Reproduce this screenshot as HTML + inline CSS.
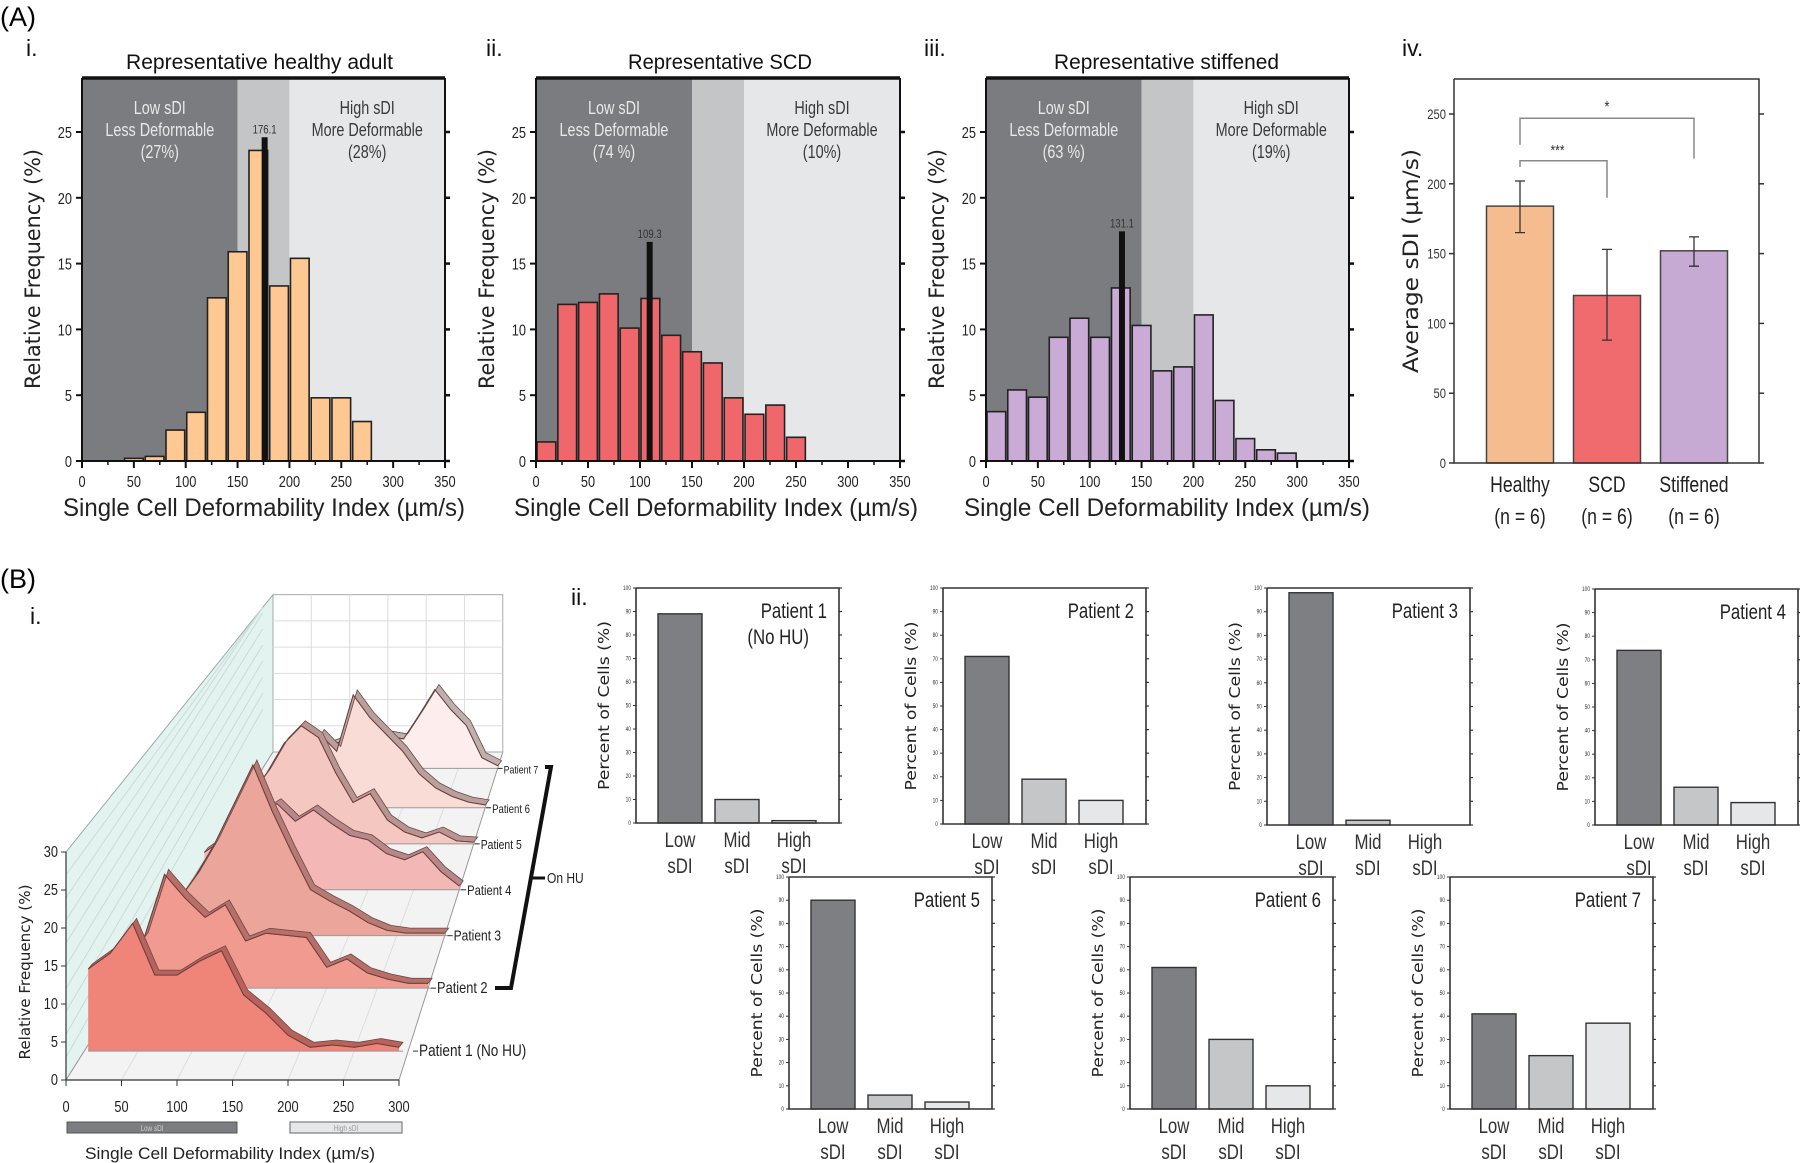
<!DOCTYPE html>
<html><head><meta charset="utf-8">
<style>
html,body{margin:0;padding:0;background:#fff;}
svg{display:block;}
text{font-family:"Liberation Sans Narrow","Liberation Sans",sans-serif;}
.w{font-family:"DejaVu Sans","Liberation Sans",sans-serif;}
</style></head>
<body>
<svg id="fig" width="1800" height="1163" viewBox="0 0 1800 1163" xmlns="http://www.w3.org/2000/svg"></svg>
<script>
// ---------- DATA ----------
const histXTicks=[0,50,100,150,200,250,300,350];
const histYTicks=[0,5,10,15,20,25];
const healthyBins=[40,60,80,100,120,140,160,180,200,220,240,260];
const healthyFreq=[0.2,0.35,2.35,3.7,12.4,15.9,23.6,13.3,15.4,4.8,4.8,3.0];
const healthyMedian=176.1;
const scdBins=[0,20,40,60,80,100,120,140,160,180,200,220,240];
const scdFreq=[1.45,11.9,12.05,12.7,10.1,12.35,9.55,8.3,7.45,4.8,3.55,4.25,1.8];
const scdMedian=109.3;
const stiffBins=[0,20,40,60,80,100,120,140,160,180,200,220,240,260,280];
const stiffFreq=[3.75,5.4,4.85,9.4,10.85,9.4,13.15,10.3,6.85,7.15,11.1,4.6,1.7,0.85,0.6];
const stiffMedian=131.1;
const avgCategories=["Healthy","SCD","Stiffened"];
const avgValues=[184,120,152];
const avgErrLow=[165,88,141];
const avgErrHigh=[202,153,162];
const avgYTicks=[0,50,100,150,200,250];
const waterX=[20,40,60,80,100,120,140,160,180,200,220,240,260,280,300];
const p1Freq=[10.8,12.9,16.8,10,10,11.8,13.2,7.4,5,2.1,0.5,0.8,0.5,1,0.5];
const p2Freq=[7.3,16.4,13,10.2,12,6.8,7.9,7.6,7.3,3,4.2,2.2,1.3,0.7,0.7];
const p3Freq=[5,9,14,20,26,19,12.8,7,5.3,3.8,2,0.8,0.4,0.4,0.4];
const p4Freq=[6,8,10,12,13.8,11,12.8,10.6,8.7,8,5.8,4.8,6.1,2.9,0.6];
const p5Freq=[4,8,12,17,20,18,12,7,8.5,4,2,1,2,0.5,0.3];
const p6Freq=[2,3,5,8,13,10,20,16,13,10,6,3.5,2,1,0.5];
const p7Freq=[1,2,3,4,5,5,5,6,5.5,10,14.7,11,8,2,0.5];
const patientNames=["Patient 1 (No HU)","Patient 2","Patient 3","Patient 4","Patient 5","Patient 6","Patient 7"];
const sdiCategories=["Low","Mid","High"];
const pct1=[89,10,1];
const pct2=[71,19,10];
const pct3=[98,2,0];
const pct4=[74,16,9.5];
const pct5=[90,6,3];
const pct6=[61,30,10];
const pct7=[41,23,37];

// ---------- helpers ----------
const NS='http://www.w3.org/2000/svg';
const svg=document.getElementById('fig');
function mk(tag,attrs,parent){const e=document.createElementNS(NS,tag);for(const k in attrs)e.setAttribute(k,attrs[k]);(parent||svg).appendChild(e);return e;}
function tx(str,x,y,attrs,parent){const t=mk('text',Object.assign({x:x,y:y},attrs),parent);t.textContent=str;
  if(!attrs.textLength&&!attrs['font-family']&&attrs['class']!=='w'){try{const L=t.getComputedTextLength();if(L>0){t.setAttribute('textLength',(L*0.8).toFixed(1));t.setAttribute('lengthAdjust','spacingAndGlyphs');}}catch(err){}}
  return t;}

let t;
t=tx('(A)',0,26,{'font-size':27,'font-family':'Liberation Sans'});


t=tx('(B)',0,588,{'font-size':27,'font-family':'Liberation Sans'});



// ---------- histograms ----------
function drawHist(name,L,R,bins,freq,color,median,numeral,numX,title,titleX,titleW,lowPct,highPct,xTitleX,xTitleW){
  const g=mk('g',{});
  
  
  const Y0=461,TOP=78,py=13.16;
  const x=v=>L+(R-L)*v/350, y=v=>Y0-v*py;
  let r;
  r=mk('rect',{x:L,y:TOP,width:x(150)-L,height:Y0-TOP,fill:'#7b7c7f'},g);
  
  
  r=mk('rect',{x:x(150),y:TOP,width:x(200)-x(150),height:Y0-TOP,fill:'#c4c5c7'},g);
  
  
  r=mk('rect',{x:x(200),y:TOP,width:R-x(200),height:Y0-TOP,fill:'#e6e7e8'},g);
  
  
  const lc=(L+x(150))/2, hc=(x(200)+R)/2;
  [['Low sDI',114],['Less Deformable',136],['('+lowPct+')',158]].forEach(a=>{const e=tx(a[0],lc,a[1],{'font-size':18,fill:'#e8e8e8','text-anchor':'middle'},g);
    
    });
  [['High sDI',114],['More Deformable',136],['('+highPct+')',158]].forEach(a=>{const e=tx(a[0],hc,a[1],{'font-size':18,fill:'#3a3a3a','text-anchor':'middle'},g);
    
    });
  bins.forEach((b,i)=>{const bar=mk('rect',{x:x(b+1),y:y(freq[i]),width:x(b+19)-x(b+1),height:Y0-y(freq[i]),fill:color,stroke:'#222','stroke-width':1.6},g);
    
    });
  const mh=Math.max(...freq.filter((f,i)=>bins[i]<=median&&bins[i]+20>median))+(name==='healthy-histogram'?1:4.3);
  const ml=mk('rect',{x:x(median)-3,y:y(mh),width:6,height:Y0-y(mh),fill:'#111'},g);
  
  
  const mt=tx(median.toFixed(1),x(median),y(mh)-4,{'font-size':12,fill:'#333','text-anchor':'middle'},g);
  
  
  const ax=mk('path',{d:`M${L},${TOP}V${Y0}H${R}V${TOP}`,fill:'none',stroke:'#111','stroke-width':2},g);
  
  
  const top=mk('line',{x1:L,y1:TOP,x2:R,y2:TOP,stroke:'#111','stroke-width':3.5},g);
  
  
  histXTicks.forEach(v=>{const tk=mk('line',{x1:x(v),y1:Y0,x2:x(v),y2:Y0+7,stroke:'#111','stroke-width':2},g);
    
    
    if(v<350){const mn=mk('line',{x1:x(v+25),y1:Y0,x2:x(v+25),y2:Y0+4,stroke:'#111','stroke-width':1.5},g);
      
      }
    const lb=tx(String(v),x(v),487,{'font-size':16,fill:'#222','text-anchor':'middle'},g);
    
    });
  histYTicks.forEach(v=>{const tk=mk('line',{x1:L-6,y1:y(v),x2:L,y2:y(v),stroke:'#111','stroke-width':2},g);
    
    
    const tr=mk('line',{x1:R,y1:y(v),x2:R+5,y2:y(v),stroke:'#111','stroke-width':2.5},g);
    
    
    const lb=tx(String(v),L-10,y(v)+6,{'font-size':16,fill:'#222','text-anchor':'end'},g);
    
    });
  const yt=tx('Relative Frequency (%)',0,0,{'font-size':21,'class':'w',fill:'#222','text-anchor':'middle',textLength:240,lengthAdjust:'spacingAndGlyphs',transform:`translate(${L-42},269) rotate(-90)`},g);
  
  
  const xt=tx('Single Cell Deformability Index (µm/s)',xTitleX,516,{'font-size':25,fill:'#222',textLength:xTitleW,lengthAdjust:'spacingAndGlyphs'},g);
  
  
  const tt=tx(title,titleX,69,{'font-size':21,fill:'#111',textLength:titleW,lengthAdjust:'spacingAndGlyphs'},g);
  
  
  const nm=tx(numeral,numX,56,{'font-size':23,fill:'#111','font-family':'Liberation Sans'},g);
  
  
}
drawHist('healthy-histogram',82,445,healthyBins,healthyFreq,'#fdc892',healthyMedian,'i.',26,'Representative healthy adult',126,267,'27%','28%',63,402);
drawHist('scd-histogram',536,900,scdBins,scdFreq,'#f0676b',scdMedian,'ii.',486,'Representative SCD',628,184,'74 %','10%',514,404);
drawHist('stiffened-histogram',986,1349,stiffBins,stiffFreq,'#c9abd6',stiffMedian,'iii.',924,'Representative stiffened',1054,225,'63 %','19%',964,406);

// ---------- average sDI bar chart ----------
(function(){
  const g=mk('g',{});
  
  
  const L=1454,R=1759,TOP=79,Y0=463,k=(463-114)/250;
  const y=v=>Y0-v*k;
  const cx=[1520,1607,1694], bw=67, colors=['#f5bd8f','#f06b6d','#c7aad4'];
  avgValues.forEach((v,i)=>{
    const b=mk('rect',{x:cx[i]-bw/2,y:y(v),width:bw,height:Y0-y(v),fill:colors[i],stroke:'#444','stroke-width':1.5},g);
    
    
    const e=mk('path',{d:`M${cx[i]},${y(avgErrLow[i])}V${y(avgErrHigh[i])}M${cx[i]-5},${y(avgErrLow[i])}h10M${cx[i]-5},${y(avgErrHigh[i])}h10`,stroke:'#333','stroke-width':1.3,fill:'none'},g);
    
    
    const c=tx(avgCategories[i],cx[i],492,{'font-size':22,fill:'#222','text-anchor':'middle'},g);
    
    
    const n=tx('(n = 6)',cx[i],524,{'font-size':22,fill:'#222','text-anchor':'middle'},g);
    
    
  });
  const ax=mk('path',{d:`M${L},${TOP}V${Y0}H${R}V${TOP}H${L}`,fill:'none',stroke:'#333','stroke-width':1.5},g);
  
  
  avgYTicks.forEach(v=>{
    const tk=mk('line',{x1:L-5,y1:y(v),x2:L,y2:y(v),stroke:'#333','stroke-width':1.5},g);
    
    
    const tr=mk('line',{x1:R,y1:y(v),x2:R+5,y2:y(v),stroke:'#333','stroke-width':1.5},g);
    
    
    const lb=tx(String(v),L-8,y(v)+5,{'font-size':14,fill:'#333','text-anchor':'end'},g);
    
    
  });
  const br1=mk('path',{d:`M${cx[0]},${y(212)}V${y(216.5)}H${cx[1]}V${y(190)}`,fill:'none',stroke:'#888','stroke-width':1.5},g);
  
  
  const s1=tx('***',(cx[0]+cx[1])/2-6,y(216.5)-6,{'font-size':15,fill:'#333','text-anchor':'middle'},g);
  
  
  const br2=mk('path',{d:`M${cx[0]},${y(228)}V${y(247)}H${cx[2]}V${y(218)}`,fill:'none',stroke:'#888','stroke-width':1.5},g);
  
  
  const s2=tx('*',(cx[0]+cx[2])/2,y(247)-6,{'font-size':16,fill:'#333','text-anchor':'middle'},g);
  
  
  const yt=tx('Average sDI (µm/s)',0,0,{'font-size':21,'class':'w',fill:'#222','text-anchor':'middle',textLength:224,lengthAdjust:'spacingAndGlyphs',transform:'translate(1418,261) rotate(-90)'},g);
  
  
  const nm=tx('iv.',1402,56,{'font-size':23,fill:'#111','font-family':'Liberation Sans'},g);
  
  
})();

// ---------- 3D waterfall ----------
(function(){
  const g=mk('g',{});
  
  
  const F={ox:66,oy:1080}, B={ox:273,oy:752}, shrink=0.31, sx=1.11, sy=7.6;
  const P=(v,f,d)=>{const ox=F.ox+(B.ox-F.ox)*d, oy=F.oy+(B.oy-F.oy)*d, s=1-shrink*d;return [ox+v*sx*s, oy-f*sy*s];};
  const pt=a=>a[0].toFixed(1)+','+a[1].toFixed(1);
  let e;
  e=mk('polygon',{points:[P(0,0,0),P(0,30,0),P(0,30,1),P(0,0,1)].map(pt).join(' '),fill:'#e3f3ef',stroke:'#9aa','stroke-width':1},g);
  
  
  for(let i=1;i<10;i++){const a=P(0,i*3,0),b=P(0,i*3+8,0.95);
    const l=mk('line',{x1:a[0],y1:a[1],x2:b[0],y2:Math.max(b[1],P(0,30,0.95)[1]),stroke:'#c9dcd7','stroke-width':1},g);
    
    }
  e=mk('polygon',{points:[P(0,0,0),P(300,0,0),P(300,0,1),P(0,0,1)].map(pt).join(' '),fill:'#f3f3f3',stroke:'#999','stroke-width':1},g);
  
  
  [50,100,150,200,250].forEach(v=>{const a=P(v,0,0),b=P(v,0,1);
    const l=mk('line',{x1:a[0],y1:a[1],x2:b[0],y2:b[1],stroke:'#ddd','stroke-width':1},g);
    
    });
  const bl=P(0,0,1),tr=P(300,30,1);
  e=mk('rect',{x:bl[0],y:tr[1],width:tr[0]-bl[0],height:bl[1]-tr[1],fill:'#fff',stroke:'#aaa','stroke-width':1},g);
  
  
  [50,100,150,200,250].forEach(v=>{const a=P(v,0,1),b=P(v,30,1);
    const l=mk('line',{x1:a[0],y1:a[1],x2:b[0],y2:b[1],stroke:'#ddd','stroke-width':1},g);
    
    });
  [5,10,15,20,25].forEach(v=>{const a=P(0,v,1),b=P(300,v,1);
    const l=mk('line',{x1:a[0],y1:a[1],x2:b[0],y2:b[1],stroke:'#ddd','stroke-width':1},g);
    
    });
  const series=[p1Freq,p2Freq,p3Freq,p4Freq,p5Freq,p6Freq,p7Freq];
  const depth=[0,0.28,0.44,0.58,0.72,0.83,0.95];
  const lift=[3.8,0,0,0,0,0,0];
  const fills=['#ef8479','#f09a90','#eca59b','#f3b8b6','#f4c7c0','#fadcd6','#fdeeed'];
  const tops=['#b9625c','#b86f68','#b77a74','#b8878a','#b89591','#b9a09c','#bdb0ae'];
  const labelSize=[17,16,15,14,13,12,11];
  const labelGap=[20,9,9,8,7,7,6];
  for(let i=6;i>=0;i--){
    const d=depth[i], base=lift[i];
    const pts=waterX.map((v,j)=>P(v,series[i][j]+base,d));
    const b0=P(waterX[0],base,d), b1=P(300,base,d);
    const poly=mk('polygon',{points:[b0].concat(pts,[b1]).map(pt).join(' '),fill:fills[i],stroke:'none'},g);
    
    
    const bline=mk('line',{x1:b0[0],y1:b0[1],x2:b1[0]+4,y2:b0[1],stroke:'#999','stroke-width':1},g);
    
    
    const back=pts.map(p=>[p[0]+4,p[1]-5]);
    const rib=mk('polygon',{points:pts.concat(back.slice().reverse()).map(pt).join(' '),fill:tops[i],stroke:'#6a4a48','stroke-width':0.8},g);
    
    
    const ln=mk('polyline',{points:pts.map(pt).join(' '),fill:'none',stroke:'#6a3f3c','stroke-width':1},g);
    
    
    const gx=b1[0]+labelGap[i];
    const tk=mk('line',{x1:gx-6,y1:b1[1],x2:gx-1,y2:b1[1],stroke:'#333','stroke-width':1},g);
    
    
    const lb=tx(patientNames[i],gx,b1[1]+5,{'font-size':labelSize[i],fill:'#222'},g);
    
    
  }
  e=mk('line',{x1:66,y1:1080,x2:66,y2:852,stroke:'#333','stroke-width':1.2},g);
  
  
  e=mk('line',{x1:66,y1:1080,x2:399,y2:1080,stroke:'#333','stroke-width':1.2},g);
  
  
  [0,5,10,15,20,25,30].forEach(v=>{const y=1080-v*sy;
    const tk=mk('line',{x1:61,y1:y,x2:66,y2:y,stroke:'#333','stroke-width':1},g);
    
    
    const lb=tx(String(v),58,y+5,{'font-size':16,fill:'#222','text-anchor':'end'},g);
    
    });
  [0,50,100,150,200,250,300].forEach(v=>{const x=66+v*sx;
    const tk=mk('line',{x1:x,y1:1080,x2:x,y2:1086,stroke:'#333','stroke-width':1},g);
    
    
    const lb=tx(String(v),x,1112,{'font-size':16,fill:'#222','text-anchor':'middle'},g);
    
    });
  e=mk('rect',{x:67,y:1122,width:170,height:11,fill:'#7c7d80',stroke:'#555','stroke-width':1},g);
  
  
  e=tx('Low sDI',152,1131,{'font-size':8,fill:'#ccc','text-anchor':'middle'},g);
  
  
  e=mk('rect',{x:290,y:1122,width:112,height:11,fill:'#e6e7e8',stroke:'#666','stroke-width':1},g);
  
  
  e=tx('High sDI',346,1131,{'font-size':8,fill:'#999','text-anchor':'middle'},g);
  
  
  e=tx('Single Cell Deformability Index (µm/s)',85,1159,{'font-size':17,fill:'#222',textLength:290,lengthAdjust:'spacingAndGlyphs'},g);
  
  
  e=tx('Relative Frequency (%)',0,0,{'font-size':15,'class':'w',fill:'#222','text-anchor':'middle',textLength:175,lengthAdjust:'spacingAndGlyphs',transform:'translate(30,972) rotate(-90)'},g);
  
  
  e=mk('path',{d:'M495,988H511L551,767H545',fill:'none',stroke:'#111','stroke-width':4},g);
  
  
  e=mk('line',{x1:531,y1:878,x2:545,y2:878,stroke:'#111','stroke-width':3},g);
  
  
  e=tx('On HU',547,883,{'font-size':15,fill:'#222'},g);
  
  
  e=tx('i.',30,624,{'font-size':23,fill:'#111','font-family':'Liberation Sans'},g);
  
  
})();

// ---------- small bar charts ----------
function drawSmall(name,L,T,Bt,vals,title,title2){
  const g=mk('g',{});
  
  
  const W=203, R=L+W, k=(Bt-T)/100, y=v=>Bt-v*k;
  const fills=['#7e7f83','#c5c6c8','#e6e7e8'];
  const offs=[22,79,136];
  vals.forEach((v,i)=>{
    const b=mk('rect',{x:L+offs[i],y:y(v),width:44,height:Bt-y(v),fill:fills[i],stroke:'#333','stroke-width':1.4},g);
    
    
    const c=tx(sdiCategories[i],L+offs[i]+22,Bt+24,{'font-size':21,fill:'#333','text-anchor':'middle'},g);
    
    
    const c2=tx('sDI',L+offs[i]+22,Bt+50,{'font-size':21,fill:'#333','text-anchor':'middle'},g);
    
    
  });
  const ax=mk('path',{d:`M${L},${T}V${Bt}H${R}V${T}H${L}`,fill:'none',stroke:'#333','stroke-width':1.6},g);
  
  
  for(let v=0;v<=100;v+=10){
    const tk=mk('line',{x1:L-3,y1:y(v),x2:L,y2:y(v),stroke:'#333','stroke-width':1},g);
    
    
    const tr=mk('line',{x1:R,y1:y(v),x2:R+3,y2:y(v),stroke:'#333','stroke-width':1.2},g);
    
    
    const lb=tx(String(v),L-5,y(v)+2,{'font-size':6,fill:'#333','text-anchor':'end'},g);
    
    
  }
  const yt=tx('Percent of Cells (%)',0,0,{'font-size':15,'class':'w',fill:'#222','text-anchor':'middle',textLength:169,lengthAdjust:'spacingAndGlyphs',transform:`translate(${L-27},${(T+Bt)/2}) rotate(-90)`},g);
  
  
  const tt=tx(title,R-12,T+30,{'font-size':21,fill:'#222','text-anchor':'end'},g);
  
  
  if(title2){const t2=tx(title2,R-30,T+56,{'font-size':21,fill:'#222','text-anchor':'end'},g);
    
    }
}
drawSmall('patient-1-chart',636,588,823,pct1,'Patient 1','(No HU)');
drawSmall('patient-2-chart',943,588,824,pct2,'Patient 2');
drawSmall('patient-3-chart',1267,588,825,pct3,'Patient 3');
drawSmall('patient-4-chart',1595,589,825,pct4,'Patient 4');
drawSmall('patient-5-chart',789,877,1109,pct5,'Patient 5');
drawSmall('patient-6-chart',1130,877,1109,pct6,'Patient 6');
drawSmall('patient-7-chart',1450,877,1109,pct7,'Patient 7');
t=tx('ii.',571,605,{'font-size':23,fill:'#111','font-family':'Liberation Sans'});


</script>
</body></html>
